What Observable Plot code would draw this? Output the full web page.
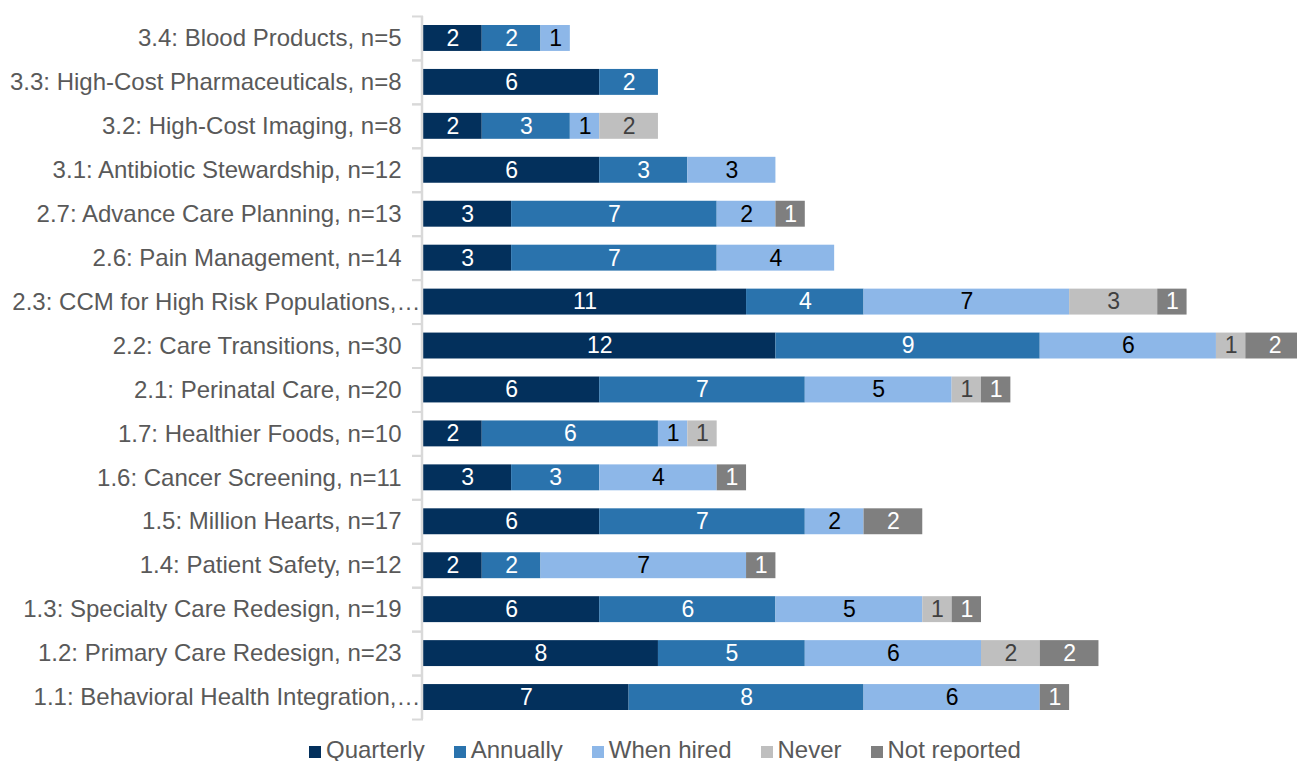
<!DOCTYPE html>
<html><head><meta charset="utf-8">
<script src="https://cdn.jsdelivr.net/npm/d3@7"></script>
<script src="https://cdn.jsdelivr.net/npm/@observablehq/plot@0.6"></script>
<style>
html,body{margin:0;padding:0;background:#fff;overflow:hidden;}
#chart{position:relative;width:1297px;height:761px;}
#legend{position:absolute;left:309px;top:736px;display:flex;align-items:center;gap:29px;font-family:"Liberation Sans",Arial,sans-serif;font-size:24px;color:#595959;white-space:nowrap;}
#legend .item{display:flex;align-items:center;}
#legend .sw{width:12px;height:12px;margin-right:5px;margin-top:4px;}
</style></head><body><div id="chart"></div><script>
const categories = [
  "3.4: Blood Products, n=5",
  "3.3: High-Cost Pharmaceuticals, n=8",
  "3.2: High-Cost Imaging, n=8",
  "3.1: Antibiotic Stewardship, n=12",
  "2.7: Advance Care Planning, n=13",
  "2.6: Pain Management, n=14",
  "2.3: CCM for High Risk Populations,…",
  "2.2: Care Transitions, n=30",
  "2.1: Perinatal Care, n=20",
  "1.7: Healthier Foods, n=10",
  "1.6: Cancer Screening, n=11",
  "1.5: Million Hearts, n=17",
  "1.4: Patient Safety, n=12",
  "1.3: Specialty Care Redesign, n=19",
  "1.2: Primary Care Redesign, n=23",
  "1.1: Behavioral Health Integration,…"
];
const series = ["Quarterly", "Annually", "When hired", "Never", "Not reported"];
const quarterly   = [2, 6, 2, 6, 3, 3, 11, 12, 6, 2, 3, 6, 2, 6, 8, 7];
const annually    = [2, 2, 3, 3, 7, 7, 4, 9, 7, 6, 3, 7, 2, 6, 5, 8];
const whenHired   = [1, 0, 1, 3, 2, 4, 7, 6, 5, 1, 4, 2, 7, 5, 6, 6];
const never       = [0, 0, 2, 0, 0, 0, 3, 1, 1, 1, 0, 0, 0, 1, 2, 0];
const notReported = [0, 0, 0, 0, 1, 0, 1, 2, 1, 0, 1, 2, 1, 1, 2, 1];
const colors = ["#03305c", "#2a73ad", "#8db7e8", "#bfbfbf", "#7f7f7f"];
const labelColors = ["#ffffff", "#ffffff", "#000000", "#404040", "#ffffff"];

const seriesValues = [quarterly, annually, whenHired, never, notReported];
const rows = [];
categories.forEach((c, i) => {
  seriesValues.forEach((arr, j) => {
    if (arr[i] > 0) rows.push({cat: c, type: series[j], idx: j, value: arr[i]});
  });
});

const font = "'Liberation Sans', Arial, sans-serif";
const textMarks = series.map((s, j) =>
  Plot.text(rows, Plot.stackX({
    x: "value", y: "cat",
    text: d => d.idx === j ? String(d.value) : null,
    fill: labelColors[j], fontSize: 23, fontFamily: font
  }))
);
const truncated = categories.filter(c => c.endsWith("…"));
const normal = categories.filter(c => !c.endsWith("…"));

const chart = Plot.plot({
  width: 1297, height: 724,
  marginLeft: 423, marginRight: 0, marginTop: 16, marginBottom: 5,
  x: {domain: [0, 29.76], axis: null},
  y: {domain: categories, paddingInner: 0.41, paddingOuter: 0.205, round: false, axis: null, label: null},
  color: {domain: series, range: colors},
  style: {fontFamily: font, background: "#fff", overflow: "hidden"},
  marks: [
    Plot.barX(rows, Plot.stackX({x: "value", y: "cat", fill: "type"})),
    ...textMarks,
    Plot.ruleX([0], {stroke: "#d9d9d9", strokeWidth: 2.5, dx: -1.5}),
    Plot.axisY({tickSize: 11, tickFormat: () => "", dy: -22, stroke: "#d9d9d9", strokeWidth: 2, label: null}),
    Plot.axisY({tickSize: 11, tickFormat: () => "", dy: 22, stroke: "#d9d9d9", strokeWidth: 2, label: null}),
    Plot.axisY(normal, {tickSize: 0, tickPadding: 22, fill: "#595959", fontSize: 24, fontFamily: font, label: null}),
    Plot.axisY(truncated, {tickSize: 0, tickPadding: 3, fill: "#595959", fontSize: 24, fontFamily: font, label: null})
  ]
});
document.getElementById("chart").appendChild(chart);

const legend = document.createElement("div");
legend.id = "legend";
series.forEach((s, j) => {
  const it = document.createElement("div");
  it.className = "item";
  const sw = document.createElement("span");
  sw.className = "sw";
  sw.style.background = colors[j];
  const t = document.createElement("span");
  t.textContent = s;
  it.appendChild(sw); it.appendChild(t);
  legend.appendChild(it);
});
document.getElementById("chart").appendChild(legend);
</script></body></html>
